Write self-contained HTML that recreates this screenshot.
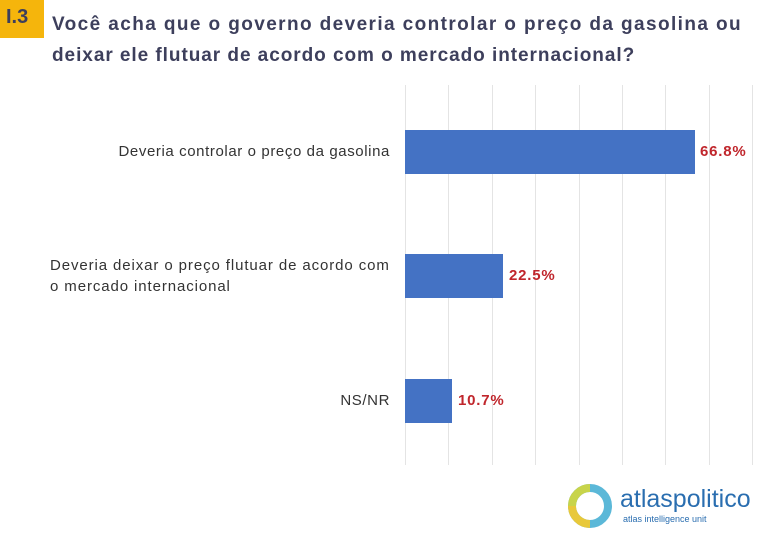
<!DOCTYPE html><html><head><style>
body{margin:0;width:768px;height:538px;background:#fff;position:relative;overflow:hidden;font-family:"Liberation Sans",sans-serif}
.a{position:absolute}
.t{left:52px;font-weight:bold;color:#3d3f5c;font-size:19px;letter-spacing:1.4px;white-space:nowrap}
.l{color:#333;font-size:15px;letter-spacing:0.6px;text-align:right;right:378px;line-height:21px;white-space:nowrap}
.v{color:#c0262c;font-weight:bold;font-size:15px;letter-spacing:0.8px}
.g{top:85px;height:380px;width:1px;background:#e4e4e4}
.b{left:405px;background:#4472c4;height:44px}
</style></head><body>
<div class="a" style="left:0;top:0;width:44px;height:38px;background:#f5b50c"></div>
<div class="a" style="left:6px;top:6px;font-weight:bold;font-size:20px;color:#3d3f5c">I.3</div>
<div class="a t" style="top:14px">Você acha que o governo deveria controlar o preço da gasolina ou</div>
<div class="a t" style="top:45px;letter-spacing:0.95px">deixar ele flutuar de acordo com o mercado internacional?</div>
<div class="a g" style="left:405px"></div><div class="a g" style="left:448px"></div><div class="a g" style="left:492px"></div><div class="a g" style="left:535px"></div><div class="a g" style="left:579px"></div><div class="a g" style="left:622px"></div><div class="a g" style="left:665px"></div><div class="a g" style="left:709px"></div><div class="a g" style="left:752px"></div>
<div class="a b" style="top:130px;width:290px"></div>
<div class="a b" style="top:254px;width:98px"></div>
<div class="a b" style="top:379px;width:47px"></div>
<div class="a l" style="top:141px">Deveria controlar o preço da gasolina</div>
<div class="a l" style="top:255px;text-align:left;left:50px;right:auto;letter-spacing:0.9px">Deveria deixar o preço flutuar de acordo com<br>o mercado internacional</div>
<div class="a l" style="top:390px">NS/NR</div>
<div class="a v" style="left:700px;top:143px">66.8%</div>
<div class="a v" style="left:509px;top:267px">22.5%</div>
<div class="a v" style="left:458px;top:392px">10.7%</div>
<svg class="a" style="left:568px;top:484px" width="44" height="44" viewBox="0 0 44 44"><circle cx="22" cy="22" r="18" fill="none" stroke="#5bb8d8" stroke-width="8"/><path d="M22 4 A18 18 0 0 0 4 22" fill="none" stroke="#c8d44a" stroke-width="8"/><path d="M22 40 A18 18 0 0 1 4 22" fill="none" stroke="#e8c83a" stroke-width="8"/><rect x="15" y="15" width="14" height="14" fill="#fff" transform="rotate(45 22 22)"/></svg>
<div class="a" style="left:620px;top:485px;font-size:25px;color:#2a6eb0">atlaspolitico</div>
<div class="a" style="left:623px;top:514px;font-size:9px;color:#2a6eb0">atlas intelligence unit</div>
</body></html>
